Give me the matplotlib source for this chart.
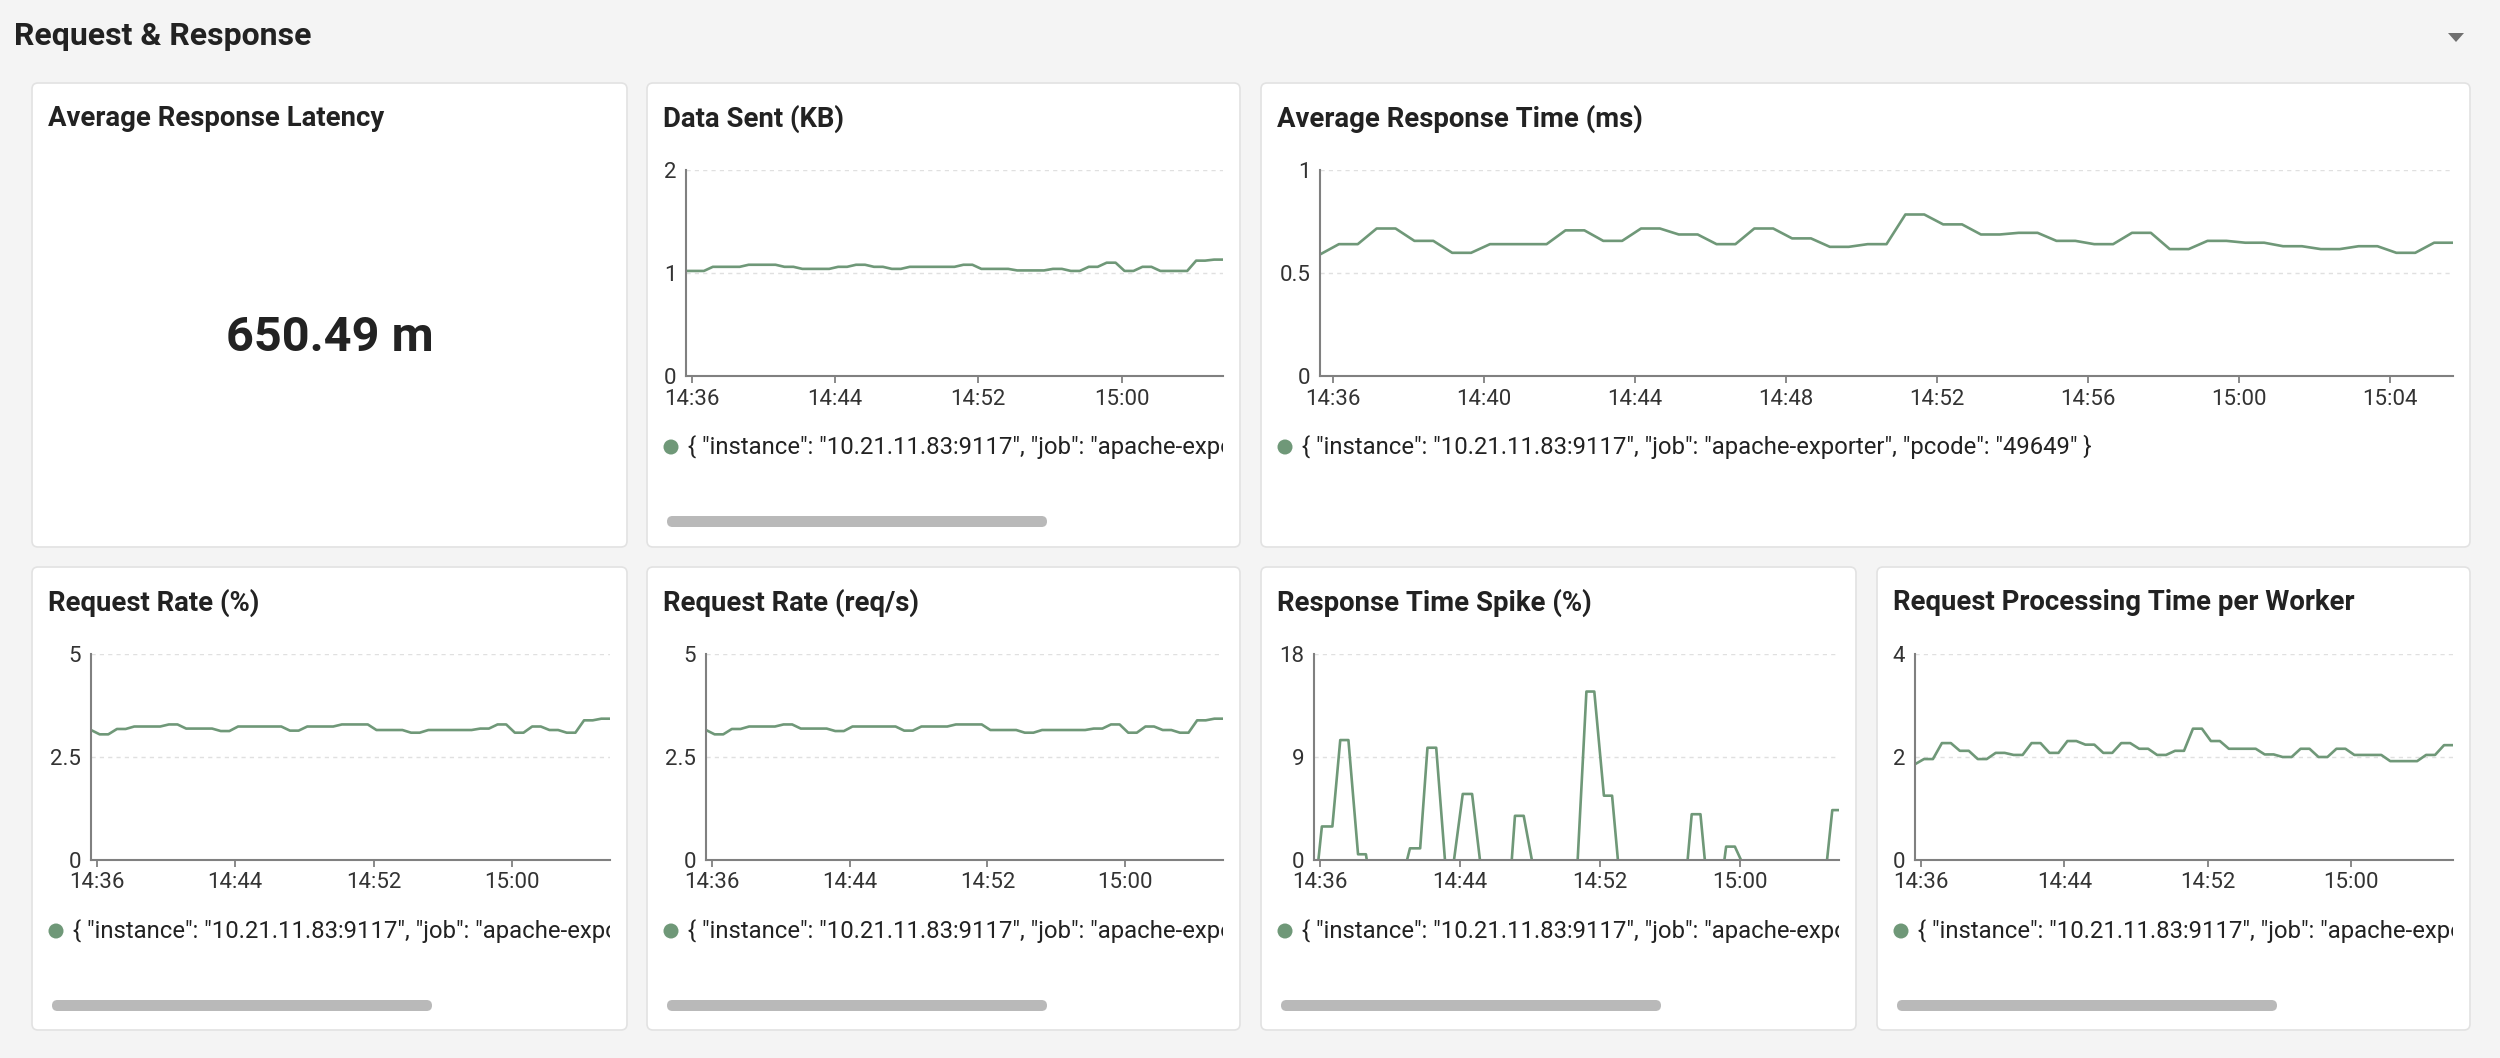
import numpy as np
import pandas as pd
import matplotlib
matplotlib.use('Agg')
import matplotlib.pyplot as plt
import matplotlib.dates as mdates
from matplotlib.patches import FancyBboxPatch, Rectangle, Circle, Polygon

plt.rcParams['font.family'] = ['Roboto', 'DejaVu Sans']

W, H = 2500, 1058
LINE = '#6f9878'
TXT = '#222222'

# ---- data (30 s samples, 14:35:40 .. 15:05:40) ----
start = pd.Timestamp('2024-01-01 14:35:40')
times = pd.date_range(start, periods=61, freq='30s')

data_sent = [1.02, 1.02, 1.02, 1.06, 1.06, 1.06, 1.06, 1.08, 1.08, 1.08,
             1.08, 1.06, 1.06, 1.04, 1.04, 1.04, 1.04, 1.06, 1.06, 1.08,
             1.08, 1.06, 1.06, 1.04, 1.04, 1.06, 1.06, 1.06, 1.06, 1.06,
             1.06, 1.08, 1.08, 1.04, 1.04, 1.04, 1.04, 1.025, 1.025, 1.025,
             1.025, 1.04, 1.04, 1.02, 1.02, 1.06, 1.06, 1.10, 1.10, 1.02,
             1.02, 1.06, 1.06, 1.02, 1.02, 1.02, 1.02, 1.12, 1.12, 1.13, 1.13]

avg_resp = [0.59, 0.64, 0.64, 0.716, 0.716, 0.656, 0.656, 0.598, 0.598, 0.64,
            0.64, 0.64, 0.64, 0.707, 0.707, 0.656, 0.656, 0.716, 0.716, 0.687,
            0.687, 0.64, 0.64, 0.716, 0.716, 0.668, 0.668, 0.627, 0.627, 0.64,
            0.64, 0.784, 0.784, 0.736, 0.736, 0.687, 0.687, 0.695, 0.695, 0.656,
            0.656, 0.64, 0.64, 0.695, 0.695, 0.616, 0.616, 0.656, 0.656, 0.647,
            0.647, 0.63, 0.63, 0.616, 0.616, 0.63, 0.63, 0.598, 0.598, 0.647, 0.647]

req_rate_pct = [3.155, 3.05, 3.05, 3.18, 3.18, 3.24, 3.24, 3.24, 3.24, 3.29,
                3.29, 3.19, 3.19, 3.19, 3.19, 3.13, 3.13, 3.24, 3.24, 3.24,
                3.24, 3.24, 3.24, 3.14, 3.14, 3.24, 3.24, 3.24, 3.24, 3.29,
                3.29, 3.29, 3.29, 3.155, 3.155, 3.155, 3.155, 3.09, 3.09, 3.155,
                3.155, 3.155, 3.155, 3.155, 3.155, 3.19, 3.19, 3.29, 3.29, 3.09,
                3.09, 3.24, 3.24, 3.155, 3.155, 3.09, 3.09, 3.39, 3.39, 3.43, 3.43]
# the req/s panel shows the same curve
req_rate_rps = list(req_rate_pct)

proc_time = [1.86, 1.96, 1.96, 2.27, 2.27, 2.12, 2.12, 1.96, 1.96, 2.08,
             2.08, 2.04, 2.04, 2.27, 2.27, 2.08, 2.08, 2.31, 2.31, 2.24,
             2.24, 2.08, 2.08, 2.27, 2.27, 2.16, 2.16, 2.04, 2.04, 2.12,
             2.12, 2.55, 2.55, 2.31, 2.31, 2.16, 2.16, 2.16, 2.16, 2.05,
             2.05, 2.0, 2.0, 2.16, 2.16, 2.0, 2.0, 2.16, 2.16, 2.04,
             2.04, 2.04, 2.04, 1.92, 1.92, 1.92, 1.92, 2.04, 2.04, 2.23, 2.23]

# spike series: seconds after start, nan = gap
spike_sec = [15, 27, 63, 90, 118, 151, 178, 181, 181,
             319, 329, 364, 389, 419, 449, 449,
             480, 510, 542, 569, 569,
             678, 689, 719, 747, 747,
             904, 934, 961, 994, 1022, 1042, 1042,
             1281, 1295, 1325, 1340, 1340,
             1407, 1413, 1443, 1464, 1464,
             1759, 1777, 1801]
spike_val = [0, 2.93, 2.93, 10.48, 10.48, 0.5, 0.5, 0, np.nan,
             0, 1.02, 1.02, 9.81, 9.81, 0, np.nan,
             0, 5.77, 5.77, 0, np.nan,
             0, 3.86, 3.86, 0, np.nan,
             0, 14.72, 14.72, 5.62, 5.62, 0, np.nan,
             0, 4.0, 4.0, 0, np.nan,
             0, 1.17, 1.17, 0, np.nan,
             0, 4.36, 4.36]

ticks_narrow = ['14:36', '14:44', '14:52', '15:00']
ticks_wide = ['14:36', '14:40', '14:44', '14:48', '14:52', '14:56', '15:00', '15:04']

stat_title = 'Average Response Latency'
stat_value = '650.49 m'
legend_label = '{ "instance": "10.21.11.83:9117", "job": "apache-exporter", "pcode": "49649" }'

tnum = mdates.date2num(times.to_pydatetime())
spike_t = tnum[0] + np.array(spike_sec) / 86400.0


def tick_nums(labels):
    return [mdates.date2num(pd.Timestamp('2024-01-01 ' + s).to_pydatetime()) for s in labels]


fig = plt.figure(figsize=(25, 10.58), dpi=100)
fig.patch.set_facecolor('#f4f4f4')
bg = fig.add_axes([0, 0, 1, 1])
bg.set_xlim(0, W)
bg.set_ylim(H, 0)
bg.axis('off')

bg.text(14, 36, 'Request & Response', fontsize=23, fontweight='bold', color=TXT,
        ha='left', va='center')
bg.add_patch(Polygon([[2448, 33], [2464, 33], [2456, 42]], closed=True,
                     fc='#707070', ec='none'))


def card(x0, y0, x1, y1, title):
    bg.add_patch(FancyBboxPatch((x0, y0), x1 - x0, y1 - y0,
                                boxstyle='round,pad=0,rounding_size=6',
                                fc='white', ec='#e2e2e2', lw=1.2))
    bg.text(x0 + 16, y0 + 36, title, fontsize=19.8, fontweight='bold', color=TXT,
            ha='left', va='center')


def chart(box, title, t, v, ymax, ylabels, ticks, left, scroll=True):
    x0, y0, x1, y1 = box
    card(x0, y0, x1, y1, title)
    ax_l, ax_r = x0 + left, x1 - 17
    ax_t, ax_b = y0 + 87, y0 + 293
    ax = fig.add_axes([ax_l / W, 1 - ax_b / H, (ax_r - ax_l) / W, (ax_b - ax_t) / H])
    ax.patch.set_alpha(0)
    ax.plot(t, v, color=LINE, lw=1.9)
    ax.set_xlim(tnum[0], tnum[-1])
    ax.set_ylim(0, ymax)
    ax.set_yticks([0, ymax / 2, ymax])
    ax.set_yticklabels(ylabels)
    ax.set_xticks(tick_nums(ticks))
    ax.set_xticklabels(ticks)
    for s in ['top', 'right']:
        ax.spines[s].set_visible(False)
    for s in ['left', 'bottom']:
        ax.spines[s].set_color('#808080')
        ax.spines[s].set_linewidth(1.5)
    ax.tick_params(axis='y', length=0, pad=7, labelsize=16, labelcolor='#333333')
    ax.tick_params(axis='x', length=5, width=1.3, color='#808080', pad=4,
                   labelsize=16, labelcolor='#333333')
    ax.yaxis.grid(True, color='#e0e0e0', linestyle=(0, (3, 3)), lw=1)
    ax.set_axisbelow(True)

    # legend row, cut off at the plot's right edge like the reference
    ly = y0 + 364
    bg.add_patch(Circle((x0 + 24, ly), 7.5, fc=LINE, ec='none'))
    txt = bg.text(x0 + 41, ly, legend_label, fontsize=17.2, color=TXT,
                  ha='left', va='center', clip_on=True)
    txt.set_clip_path(Rectangle((x0 + 36, ly - 25), ax_r - x0 - 36, 50,
                                transform=bg.transData))
    if scroll:
        bg.add_patch(FancyBboxPatch((x0 + 20, y0 + 433), 380, 11,
                                    boxstyle='round,pad=0,rounding_size=5.5',
                                    fc='#b9b9b9', ec='none'))


# stat card
card(32, 83, 627, 547, stat_title)
bg.text(329.5, 338, stat_value, fontsize=35, fontweight='bold', color=TXT,
        ha='center', va='center')

chart((647, 83, 1240, 547), 'Data Sent (KB)', tnum, data_sent, 2,
      ['0', '1', '2'], ticks_narrow, 39)
chart((1261, 83, 2470, 547), 'Average Response Time (ms)', tnum, avg_resp, 1,
      ['0', '0.5', '1'], ticks_wide, 59, scroll=False)
chart((32, 567, 627, 1030), 'Request Rate (%)', tnum, req_rate_pct, 5,
      ['0', '2.5', '5'], ticks_narrow, 59)
chart((647, 567, 1240, 1030), 'Request Rate (req/s)', tnum, req_rate_rps, 5,
      ['0', '2.5', '5'], ticks_narrow, 59)
chart((1261, 567, 1856, 1030), 'Response Time Spike (%)', spike_t, spike_val, 18,
      ['0', '9', '18'], ticks_narrow, 53)
chart((1877, 567, 2470, 1030), 'Request Processing Time per Worker', tnum, proc_time, 4,
      ['0', '2', '4'], ticks_narrow, 38)

fig.savefig('out.png', dpi=100, facecolor=fig.get_facecolor())
